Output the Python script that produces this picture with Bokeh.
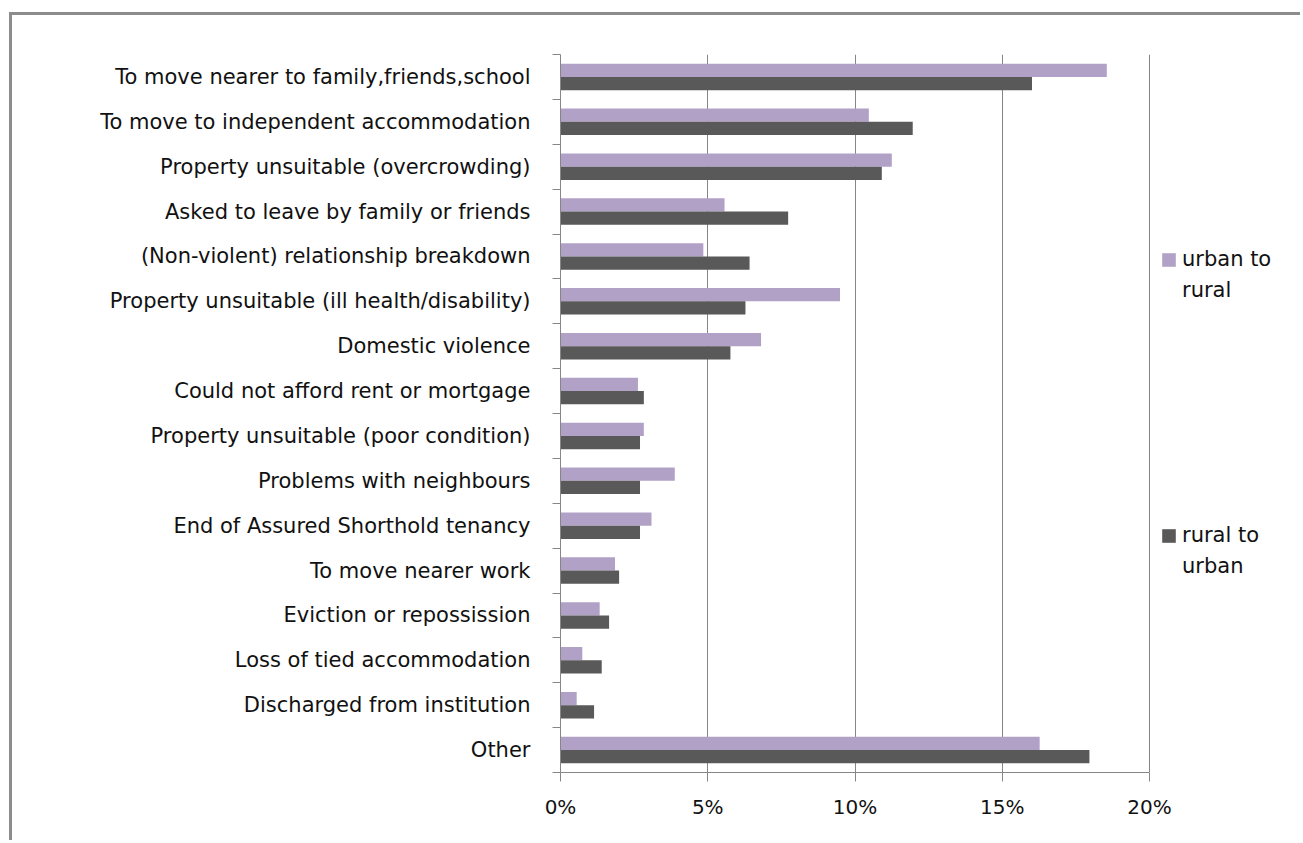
import numpy as np
from bokeh.plotting import figure
from bokeh.models import (ColumnDataSource, Range1d, FixedTicker, NumeralTickFormatter,
                          Legend, LegendItem)
from bokeh.transform import dodge
from bokeh.embed import file_html
from bokeh.resources import INLINE

categories = [
    "To move nearer to family,friends,school",
    "To move to independent accommodation",
    "Property unsuitable (overcrowding)",
    "Asked to leave by family or friends",
    "(Non-violent) relationship breakdown",
    "Property unsuitable (ill health/disability)",
    "Domestic violence",
    "Could not afford rent or mortgage",
    "Property unsuitable (poor condition)",
    "Problems with neighbours",
    "End of Assured Shorthold tenancy",
    "To move nearer work",
    "Eviction or repossission",
    "Loss of tied accommodation",
    "Discharged from institution",
    "Other",
]
urban_to_rural = [18.55, 10.47, 11.25, 5.57, 4.85, 9.49, 6.81, 2.63, 2.83, 3.88, 3.09, 1.85, 1.33, 0.74, 0.55, 16.27]
rural_to_urban = [16.01, 11.96, 10.91, 7.73, 6.42, 6.28, 5.77, 2.83, 2.70, 2.70, 2.70, 1.99, 1.65, 1.40, 1.14, 17.96]
series_names = [["urban to", "rural"], ["rural to", "urban"]]
x_ticks = [0, 0.05, 0.10, 0.15, 0.20]

PURPLE = "#B2A1C7"
DARK = "#595959"
AXIS = "#868686"
FONT = "DejaVu Sans"
FS = "21px"

n = len(categories)
pos = n - np.arange(n) - 0.5
src = ColumnDataSource(dict(
    cat=categories, pos=pos,
    u2r=np.array(urban_to_rural) / 100.0,
    r2u=np.array(rural_to_urban) / 100.0,
))

# outer border offset (chart area border drawn via CSS)
off_x, off_y = 12, 15
W, H = 1303 - off_x, 843 - off_y
frame_left, frame_right, frame_top, frame_bottom = 560 - off_x, 1290 - off_x, 54 - off_y, 772 - off_y
px_per_20 = 589.0
x_end = 0.2 * (frame_right - frame_left) / px_per_20

p = figure(width=W, height=H, output_backend="svg", toolbar_location=None,
           x_range=Range1d(0, x_end), y_range=Range1d(0, n),
           min_border_left=frame_left, min_border_right=W - frame_right,
           min_border_top=frame_top, min_border_bottom=H - frame_bottom)
p.outline_line_color = None
p.background_fill_color = "white"
p.border_fill_color = "white"
p.styles = {"position": "absolute", "left": "9px", "top": "12px",
            "border-left": "3px solid #8c8c8c", "border-top": "3px solid #8c8c8c"}

r1 = p.hbar(y=dodge("pos", 0.148), right="u2r", left=0, height=0.295,
            fill_color=PURPLE, line_color=None, source=src)
r2 = p.hbar(y=dodge("pos", -0.148), right="r2u", left=0, height=0.295,
            fill_color=DARK, line_color=None, source=src)

# y axis (categories)
yax = p.yaxis[0]
yax.ticker = FixedTicker(ticks=list(pos), minor_ticks=list(np.arange(n + 1)))
yax.major_label_overrides = {float(y): c for y, c in zip(pos, categories)}
yax.axis_line_color = AXIS
yax.major_tick_out = 0
yax.major_tick_in = 0
yax.minor_tick_out = 8
yax.minor_tick_in = 0
yax.minor_tick_line_color = AXIS
yax.major_label_text_font = FONT
yax.major_label_text_font_size = FS
yax.major_label_text_color = "#111111"
yax.major_label_standoff = 22
p.ygrid.grid_line_color = None

# x axis
xax = p.xaxis[0]
xax.ticker = FixedTicker(ticks=x_ticks, minor_ticks=[])
xax.formatter = NumeralTickFormatter(format="0%")
xax.bounds = (0, 0.2)
xax.axis_line_color = AXIS
xax.major_tick_line_color = AXIS
xax.major_tick_out = 9
xax.major_tick_in = 0
xax.minor_tick_line_color = None
xax.major_label_text_font = FONT
xax.major_label_text_font_size = "20px"
xax.major_label_text_color = "#111111"
xax.major_label_standoff = 13
p.xgrid.ticker = FixedTicker(ticks=x_ticks, minor_ticks=[])
p.xgrid.grid_line_color = AXIS


def make_legend(lines, renderer, y_loc):
    items = [LegendItem(label=lines[0], renderers=[renderer]),
             LegendItem(label=lines[1], renderers=[])]
    return Legend(items=items, location=(600, y_loc), orientation="vertical",
                  glyph_width=17, glyph_height=17, label_standoff=5,
                  spacing=7, padding=0, margin=0,
                  border_line_color=None, background_fill_alpha=0,
                  label_text_font=FONT, label_text_font_size=FS,
                  label_text_color="#111111")


p.add_layout(make_legend(series_names[0], r1, 470), "center")
p.add_layout(make_legend(series_names[1], r2, 194), "center")

open("out.html", "w").write(file_html(p, INLINE))
